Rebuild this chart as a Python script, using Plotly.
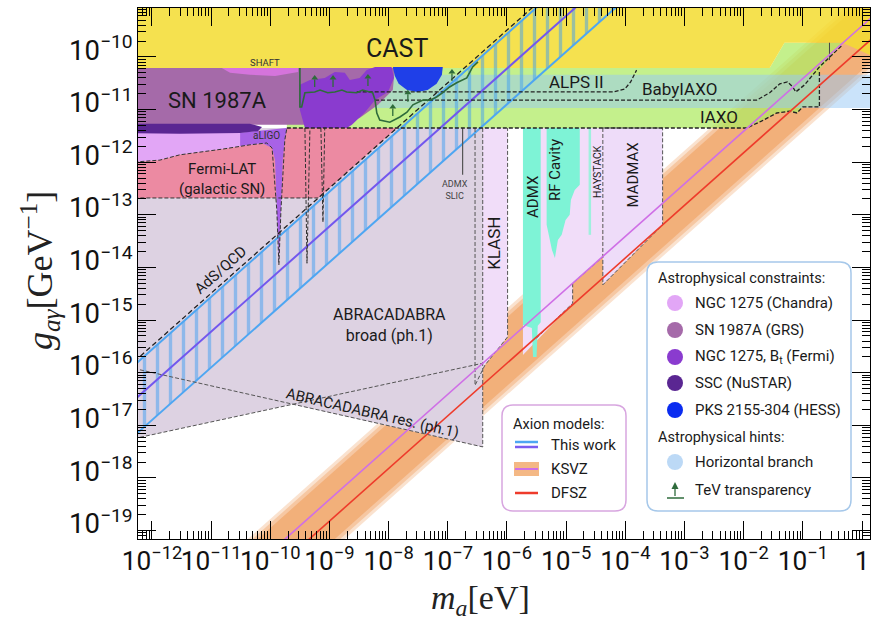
import numpy as np
import plotly.graph_objects as go

# ---------------- data: log10(m_a / eV) and log10(g_ag / GeV^-1) ----------------
X_RANGE_LOG = [-12.236, 0.135]
Y_RANGE_LOG = [-19.16, -9.07]

CAST_LOGM = [-12.5, 0.5, 0.5, -0.33, -1.31, -1.56, -12.5]
CAST_LOGG = [-9.0, -9.0, -10.15, -9.73, -9.73, -10.21, -10.21]

GREEN_LOGM = [-9.72, -1.56, -1.31, -0.33, -0.72, -0.72, -1.00, -1.10, -1.22, -1.44, -1.95, -9.72]
GREEN_LOGG = [-10.21, -10.21, -9.73, -9.73, -10.25, -10.95, -10.95, -11.065, -11.03, -11.065, -11.35, -11.35]

HB_LOGM = [-9.67, 0.5, 0.5, -9.67]
HB_LOGG = [-10.34, -10.34, -10.97, -10.97]

IAXO_LOGM = [-9.72, -1.95, -1.70, -1.44, -1.22, -1.10, -1.00, -0.72, -0.72]
IAXO_LOGG = [-11.35, -11.35, -11.22, -11.065, -11.03, -11.065, -10.95, -10.95, -10.25]
BABY_LOGM = [-8.23, -1.78, -1.56, -1.39, -1.26, -1.17, -1.12, -0.97, -0.72, -0.33]
BABY_LOGG = [-10.82, -10.82, -10.68, -10.51, -10.475, -10.57, -10.665, -10.53, -10.19, -9.77]
ALPS_LOGM = [-8.54, -4.21, -4.01, -3.91, -3.81]
ALPS_LOGG = [-10.665, -10.665, -10.61, -10.475, -10.25]
IAXO_TICK_LOGM = [-0.55, -0.55]
IAXO_TICK_LOGG = [-9.73, -10.06]

SN_LOGM = [-12.5, -7.895, -7.93, -8.18, -8.49, -8.82, -12.5]
SN_LOGG = [-10.21, -10.21, -10.63, -10.91, -11.16, -11.29, -11.29]

SHAFT_LOGM = [-10.82, -9.53, -9.53, -9.92, -10.345, -10.68]
SHAFT_LOGG = [-10.21, -10.21, -10.285, -10.36, -10.34, -10.30]

NGCF_LOGM = [-9.50, -9.33, -9.08, -8.91, -8.74, -8.655, -8.49, -8.37, -8.23, -7.95, -7.91,
             -8.01, -8.23, -8.40, -8.62, -8.82, -9.16, -9.415, -9.50]
NGCF_LOGG = [-10.53, -10.44, -10.40, -10.285, -10.30, -10.44, -10.40, -10.25, -10.19, -10.19, -10.40,
             -10.665, -10.82, -11.05, -11.29, -11.43, -11.445, -11.35, -11.01]

HESS_LOGM = [-7.93, -7.085, -7.10, -7.19, -7.34, -7.51, -7.69, -7.83, -7.895]
HESS_LOGG = [-10.19, -10.19, -10.34, -10.51, -10.63, -10.665, -10.63, -10.51, -10.36]

SSC_LOGM = [-12.5, -10.345, -10.14, -10.21, -10.51, -11.53, -12.5]
SSC_LOGG = [-11.27, -11.27, -11.33, -11.41, -11.445, -11.46, -11.445]

CHANDRA_LOGM = [-12.5, -10.40, -9.67, -9.67, -10.06, -10.345, -10.80, -11.19, -11.53, -11.865, -12.5]
CHANDRA_LOGG = [-11.44, -11.44, -11.35, -11.58, -11.635, -11.67, -11.75, -11.81, -11.86, -11.96, -12.015]

FERMI_LOGM = [-12.5, -11.865, -11.53, -11.19, -10.80, -10.345, -10.06, -9.905, -9.79, -9.72, -7.86, -9.19, -12.5]
FERMI_LOGG = [-12.015, -11.96, -11.86, -11.81, -11.75, -11.67, -11.635, -11.54, -11.39, -11.35, -11.35, -12.68, -12.68]
FERMI_TOP_LOGM = [-12.5, -11.865, -11.53, -11.19, -10.80, -10.345, -10.06, -9.97, -9.89, -9.855, -9.82, -9.755, -9.72]
FERMI_TOP_LOGG = [-12.015, -11.96, -11.86, -11.81, -11.75, -11.67, -11.635, -11.73, -12.91, -13.95, -12.91, -11.58, -11.35]
FERMI_BOT_LOGM = [-12.5, -9.19]
FERMI_BOT_LOGG = [-12.68, -12.68]

ALIGO_LOGM = [-10.51, -9.72, -9.755, -9.79, -9.82, -9.855, -9.89, -9.92, -9.97, -10.14, -10.345, -10.51]
ALIGO_LOGG = [-11.44, -11.35, -11.58, -11.96, -12.91, -13.95, -12.91, -11.96, -11.73, -11.635, -11.67, -11.69]

SPIKE_A_LOGM = [-9.415, -9.38, -9.33]
SPIKE_A_LOGG = [-11.35, -13.92, -11.35]
SPIKE_B_LOGM = [-9.145, -9.11, -9.08]
SPIKE_B_LOGG = [-11.35, -13.14, -11.35]
SLIC_LOGM = [-6.75, -6.75]
SLIC_LOGG = [-11.35, -12.24]

ABRA_LOGM = [-12.5, -6.41, -6.41, -9.635, -12.5]
ABRA_LOGG = [-11.35, -11.35, -17.41, -16.60, -17.30]
ABRA_BROAD_LOGM = [-12.5, -6.41]
ABRA_BROAD_LOGG = [-17.30, -15.82]
ABRA_RES_LOGM = [-12.5, -6.41]
ABRA_RES_LOGG = [-15.87, -17.41]
ABRA_EDGE_LOGM = [-6.41, -6.41]
ABRA_EDGE_LOGG = [-11.35, -17.41]

KLASH_LOGM = [-6.54, -5.99, -5.99, -6.375, -6.54]
KLASH_LOGG = [-11.35, -11.35, -15.32, -15.86, -16.24]
HALO_LOGM = [-5.73, -4.38, -4.38, -4.89, -4.89, -5.73]
HALO_LOGG = [-11.35, -11.35, -13.80, -14.30, -14.68, -15.665]
HALO_EDGE_LOGM = [-5.50, -4.89, -4.89, -4.38]
HALO_EDGE_LOGG = [-15.34, -14.68, -14.30, -13.80]
MADMAX_LOGM = [-4.38, -3.37, -3.37, -4.38]
MADMAX_LOGG = [-11.35, -11.35, -13.19, -14.33]
ADMX_LOGM = [-5.73, -5.43, -5.43, -5.48, -5.50, -5.56, -5.58, -5.73]
ADMX_LOGG = [-11.35, -11.35, -15.04, -15.11, -15.70, -15.70, -15.15, -15.095]
RF_LOGM = [-5.33, -4.77, -4.77, -4.855, -4.92, -4.94, -5.01, -5.075, -5.14, -5.19, -5.24, -5.29, -5.33]
RF_LOGG = [-11.35, -11.35, -12.43, -12.53, -12.72, -13.00, -13.10, -13.38, -13.48, -13.82, -13.67, -13.38, -13.19]
HAYSTACK_LOGM = [-4.60, -4.60]
HAYSTACK_LOGG = [-11.35, -13.38]

TEV_LOGM = [-9.50, -9.50, -9.47, -9.415, -9.25, -9.16, -9.03, -8.91, -8.79, -8.71, -8.54, -8.44, -8.32,
            -8.27, -8.23, -8.20, -8.15, -7.98, -7.81, -7.69, -7.59, -7.42, -7.30, -7.19, -7.085, -6.97,
            -6.85, -6.68, -6.58, -6.49]
TEV_LOGG = [-10.21, -10.95, -10.95, -10.68, -10.665, -10.63, -10.68, -10.665, -10.63, -10.665, -10.68,
            -10.63, -10.665, -10.68, -10.82, -11.065, -11.20, -11.24, -11.14, -11.05, -10.91, -10.82,
            -10.82, -10.76, -10.68, -10.57, -10.49, -10.40, -10.19, -10.095]
TEV_ARROW_LOGM = [-9.25, -8.94, -8.35, -7.93, -7.675, -6.93]
TEV_ARROW_LOGG = [-10.40, -10.40, -10.38, -10.95, -10.68, -10.285]

# axion model lines / bands
BAND_LOGM = [-11.0, 1.0, 1.0, -11.0]
KSVZ_BAND_OUTER_LOGG = [-19.78, -7.78, -9.42, -21.42]
KSVZ_BAND_MID_LOGG = [-19.86, -7.86, -9.34, -21.34]
KSVZ_BAND_CORE_LOGG = [-19.95, -7.95, -9.25, -21.25]
LINE_LOGM = [-12.5, 1.0]
KSVZ_LOGG = [-21.91, -8.41]
DFSZ_LOGG = [-22.32, -8.82]

TW_LOGM = [-12.6, -3.5]
TW_UP_LOGG = [-16.16, -7.06]
TW_LO_LOGG = [-17.50, -8.40]
TW_MID_LOGG = [-16.82, -7.72]
ADS_LOGG = [-16.09, -6.99]

# ---------------------------------------------------------------------------
def P(a):
    return np.power(10.0, np.asarray(a, dtype=float))

fig = go.Figure()

def fill(lm, lg, color, line=None, pattern=None):
    kw = dict(x=P(lm), y=P(lg), mode="lines", fill="toself", fillcolor=color,
              hoverinfo="skip", showlegend=False)
    kw["line"] = line if line else dict(width=0, color=color)
    if pattern:
        kw["fillpattern"] = pattern
    fig.add_trace(go.Scatter(**kw))

def curve(lm, lg, color="#333333", width=1.0, dash="4px,2px"):
    fig.add_trace(go.Scatter(x=P(lm), y=P(lg), mode="lines",
                             line=dict(color=color, width=width, dash=dash),
                             hoverinfo="skip", showlegend=False))

# KSVZ band (soft edges)
fill(BAND_LOGM, KSVZ_BAND_OUTER_LOGG, "rgba(240,160,95,0.30)")
fill(BAND_LOGM, KSVZ_BAND_MID_LOGG, "rgba(240,160,95,0.40)")
fill(BAND_LOGM, KSVZ_BAND_CORE_LOGG, "rgba(240,160,95,0.60)")

# haloscopes
fill(KLASH_LOGM, KLASH_LOGG, "#f1ddf9")
fill(ABRA_LOGM, ABRA_LOGG, "#ddd2e2")
fill(HALO_LOGM, HALO_LOGG, "#f1ddf9")
fill(MADMAX_LOGM, MADMAX_LOGG, "#eedcf9")
fill(ADMX_LOGM, ADMX_LOGG, "#7ef3d6")
fill(RF_LOGM, RF_LOGG, "#7ef3d6")
curve(HAYSTACK_LOGM, HAYSTACK_LOGG, color="#9ff0de", width=2.5, dash="solid")

# helioscope / LSW
fill(GREEN_LOGM, GREEN_LOGG, "rgba(176,235,102,0.75)")
fill(HB_LOGM, HB_LOGG, "rgba(150,200,245,0.50)")
fill(CAST_LOGM, CAST_LOGG, "rgba(243,220,48,0.85)")

# astrophysics
fill(SN_LOGM, SN_LOGG, "#a56aa9")
fill(SHAFT_LOGM, SHAFT_LOGG, "#d574dc")
fill(NGCF_LOGM, NGCF_LOGG, "#8a3bcf")
fill(HESS_LOGM, HESS_LOGG, "#1f3fe8")
fill(CHANDRA_LOGM, CHANDRA_LOGG, "#e2a6f6")
fill(FERMI_LOGM, FERMI_LOGG, "#ec8aa2")
fill(ALIGO_LOGM, ALIGO_LOGG, "#a862e6")
fill(SSC_LOGM, SSC_LOGG, "#5a2692")

# this work band (hatched)
fill(TW_LOGM + TW_LOGM[::-1], TW_UP_LOGG + TW_LO_LOGG[::-1], "rgba(0,0,0,0)",
     pattern=dict(shape="|", fgcolor="#3f9ef2", bgcolor="rgba(0,0,0,0)", size=13, solidity=0.26))
curve(TW_LOGM, TW_UP_LOGG, color="#4ea6f2", width=2, dash="solid")
curve(TW_LOGM, TW_LO_LOGG, color="#4ea6f2", width=2, dash="solid")
curve(TW_LOGM, TW_MID_LOGG, color="#7257ee", width=2, dash="solid")
curve(TW_LOGM, ADS_LOGG, color="#222222", width=1.3, dash="5px,3px")

# dashed outlines
curve(FERMI_TOP_LOGM, FERMI_TOP_LOGG)
curve(FERMI_BOT_LOGM, FERMI_BOT_LOGG)
curve(SPIKE_A_LOGM, SPIKE_A_LOGG)
curve(SPIKE_B_LOGM, SPIKE_B_LOGG)
curve(SLIC_LOGM, SLIC_LOGG, color="#555555", width=1.2, dash="solid")
curve(ABRA_BROAD_LOGM, ABRA_BROAD_LOGG, color="#555555")
curve(ABRA_RES_LOGM, ABRA_RES_LOGG, color="#555555")
curve(ABRA_EDGE_LOGM, ABRA_EDGE_LOGG, color="#555555")
curve(KLASH_LOGM[:1] + KLASH_LOGM[::-1][:-1], KLASH_LOGG[:1] + KLASH_LOGG[::-1][:-1], color="#555555")
curve(HALO_EDGE_LOGM, HALO_EDGE_LOGG, color="#555555")
curve(MADMAX_LOGM[:1] + MADMAX_LOGM[::-1], MADMAX_LOGG[:1] + MADMAX_LOGG[::-1], color="#555555")
curve(IAXO_LOGM, IAXO_LOGG, color="#222222", width=1.3)
curve(BABY_LOGM, BABY_LOGG, color="#222222", width=1.3)
curve(ALPS_LOGM, ALPS_LOGG, color="#222222", width=1.3)
curve(IAXO_TICK_LOGM, IAXO_TICK_LOGG, color="#444444", width=1, dash="solid")

# TeV transparency (curve + upward arrows: stem + head marker)
curve(TEV_LOGM, TEV_LOGG, color="#2e6b3b", width=1.6, dash="solid")
ARROW_STEM = 0.17  # arrow length in decades (style)
stem_x, stem_y = [], []
for lm, lg in zip(TEV_ARROW_LOGM, TEV_ARROW_LOGG):
    stem_x += [10 ** lm, 10 ** lm, None]
    stem_y += [10 ** (lg - ARROW_STEM), 10 ** (lg - 0.03), None]
fig.add_trace(go.Scatter(x=stem_x, y=stem_y, mode="lines", line=dict(color="#2e6b3b", width=1.3),
                         hoverinfo="skip", showlegend=False))
fig.add_trace(go.Scatter(x=P(TEV_ARROW_LOGM), y=P(TEV_ARROW_LOGG), mode="markers",
                         marker=dict(symbol="triangle-up", size=6, color="#2e6b3b"),
                         hoverinfo="skip", showlegend=False))

# benchmark models
curve(LINE_LOGM, KSVZ_LOGG, color="#cf6fe6", width=1.6, dash="solid")
curve(LINE_LOGM, DFSZ_LOGG, color="#ee3b2b", width=1.6, dash="solid")

# ---------------------------------------------------------------------------
FONT = "Roboto, 'Noto Sans', sans-serif"

def label(text, lm, lg, size, angle=0, color="#1a1a1a"):
    fig.add_annotation(x=lm, y=lg, text=text, showarrow=False, textangle=angle,
                       xanchor="center", yanchor="middle",
                       font=dict(family=FONT, size=size, color=color), align="center")

label("CAST", -7.86, -9.83, 25)
label("SN 1987A", -10.90, -10.82, 22)
label("SHAFT", -10.09, -10.11, 9.5, color="#333")
label("aLIGO", -10.06, -11.50, 10, color="#333")
label("Fermi-LAT<br>(galactic SN)", -10.82, -12.32, 15)
label("ADMX<br>SLIC", -6.88, -12.53, 9, color="#444")
label("AdS/QCD", -10.84, -14.05, 15, angle=-41.6)
label("ABRACADABRA<br>broad (ph.1)", -7.98, -15.10, 16)
label("ABRACADABRA res. (ph.1)", -8.28, -16.77, 15, angle=13)
label("ALPS II", -4.82, -10.475, 17)
label("BabyIAXO", -3.08, -10.61, 17)
label("IAXO", -2.41, -11.14, 17)
label("KLASH", -6.21, -13.54, 17, angle=-90)
label("ADMX", -5.56, -12.66, 15, angle=-90)
label("RF Cavity", -5.19, -12.15, 15, angle=-90)
label("HAYSTACK", -4.48, -12.17, 10.5, angle=-90)
label("MADMAX", -3.875, -12.24, 15, angle=-90)

# ---------------------------------------------------------------------------
# legend boxes (layout positions in pixels -> paper)
L, R, T, B = 138, 870, 8, 539
W, H = R - L, B - T

def px(x):
    return (x - L) / W

def py(y):
    return (B - y) / H

def rrect(x0, y0, x1, y1, r, color):
    rx, ry = r / W, r / H
    a0, a1, b0, b1 = px(x0), px(x1), py(y1), py(y0)
    path = (f"M{a0+rx},{b0} L{a1-rx},{b0} Q{a1},{b0} {a1},{b0+ry} L{a1},{b1-ry} "
            f"Q{a1},{b1} {a1-rx},{b1} L{a0+rx},{b1} Q{a0},{b1} {a0},{b1-ry} "
            f"L{a0},{b0+ry} Q{a0},{b0} {a0+rx},{b0} Z")
    fig.add_shape(type="path", path=path, xref="paper", yref="paper",
                  line=dict(color=color, width=1.5), fillcolor="white", layer="above")

def ptext(text, x, y, size=15, anchor="left"):
    fig.add_annotation(x=px(x), y=py(y), xref="paper", yref="paper", text=text, showarrow=False,
                       xanchor=anchor, yanchor="middle", font=dict(family=FONT, size=size, color="#1a1a1a"))

def pline(x0, x1, y0, color, width, y1=None):
    fig.add_shape(type="line", xref="paper", yref="paper", x0=px(x0), x1=px(x1), y0=py(y0),
                  y1=py(y0 if y1 is None else y1),
                  line=dict(color=color, width=width), layer="above")

def pcircle(x, y, r, color):
    fig.add_shape(type="circle", xref="paper", yref="paper", x0=px(x - r), x1=px(x + r),
                  y0=py(y + r), y1=py(y - r), fillcolor=color, line=dict(width=0), layer="above")

rrect(502, 405, 626, 511, 11, "#d8a6e0")
ptext("Axion models:", 511, 424, 14.5)
pline(515, 538, 442, "#4ea6f2", 2.5)
pline(515, 538, 447, "#7b5cf0", 2.5)
ptext("This work", 549, 445, 15)
fig.add_shape(type="rect", xref="paper", yref="paper", x0=px(514), x1=px(539), y0=py(476), y1=py(462),
              fillcolor="rgba(242,172,112,0.85)", line=dict(width=0), layer="above")
pline(515, 538, 469, "#cf6fe6", 2)
ptext("KSVZ", 549, 469, 15)
pline(515, 538, 493, "#ee3b2b", 2.5)
ptext("DFSZ", 549, 493, 15)

rrect(647, 262, 851, 511, 11, "#a6c8ea")
ptext("Astrophysical constraints:", 656, 278, 14.5)
LEG_ITEMS = [("NGC 1275 (Chandra)", "#e2a6f6", 303),
             ("SN 1987A (GRS)", "#a56aa9", 330),
             ("NGC 1275, B<sub>t</sub> (Fermi)", "#8a3bcf", 357),
             ("SSC (NuSTAR)", "#5a2692", 383),
             ("PKS 2155-304 (HESS)", "#0a2cf0", 410)]
for txt, col, yy in LEG_ITEMS:
    pcircle(675, yy, 8, col)
    ptext(txt, 693, yy, 15)
ptext("Astrophysical hints:", 656, 437, 14.5)
pcircle(675, 462, 8, "#bcd9f6")
ptext("Horizontal branch", 693, 462, 15)
pline(667, 684, 498, "#2e6b3b", 1.5)
pline(675, 675, 496, "#2e6b3b", 1.3, y1=486)
hx0, hx1, hy0, hy1 = px(671.5), px(678.5), py(489), py(482)
fig.add_shape(type="path", xref="paper", yref="paper",
              path=f"M{hx0},{hy0} L{px(675)},{hy1} L{hx1},{hy0} Z",
              fillcolor="#2e6b3b", line=dict(width=0), layer="above")
ptext("TeV transparency", 693, 490, 15)

# axis titles
SERIF = "'Liberation Serif', 'DejaVu Serif', serif"
fig.add_annotation(x=px(40), y=py(270), xref="paper", yref="paper", showarrow=False, textangle=-90,
                   xanchor="center", yanchor="middle",
                   text="<i>g</i><sub><i>aγ</i></sub>[GeV<sup>−1</sup>]",
                   font=dict(family=SERIF, size=36, color="#222"))
fig.add_annotation(x=px(480), y=py(600), xref="paper", yref="paper", showarrow=False,
                   xanchor="center", yanchor="middle",
                   text="<i>m</i><sub><i>a</i></sub>[eV]",
                   font=dict(family=SERIF, size=34, color="#222"))

axis_common = dict(type="log", dtick=1, ticks="inside", ticklen=18, tickwidth=1, tickcolor="black",
                   showline=True, linecolor="black", linewidth=1, mirror="allticks",
                   showgrid=False, zeroline=False, exponentformat="power", automargin=False,
                   tickangle=0,
                   minor=dict(ticks="inside", ticklen=8, tickwidth=1, tickcolor="black",
                              dtick="D1", showgrid=False))

fig.update_layout(
    width=879, height=622, autosize=False,
    margin=dict(l=L, r=879 - R, t=T, b=622 - B),
    paper_bgcolor="white", plot_bgcolor="white",
    showlegend=False,
    xaxis=dict(range=X_RANGE_LOG, tickfont=dict(family=FONT, size=21, color="#111"), **axis_common),
    yaxis=dict(range=Y_RANGE_LOG, tickfont=dict(family=FONT, size=22, color="#111"),
               ticklabelshift=-7, **axis_common),
)

fig.write_html("out.html", config={"displayModeBar": False},
               post_script="document.body.style.margin='0px';document.body.style.overflow='hidden';")
